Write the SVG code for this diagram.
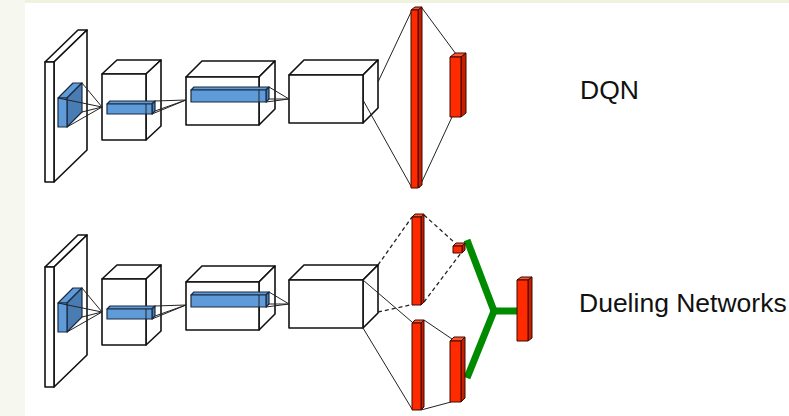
<svg xmlns="http://www.w3.org/2000/svg" width="789" height="416" viewBox="0 0 789 416">
<defs>
<style>
.bg-side{fill:#f6f7ef}
.bg-top{fill:#eef2de}
.w{fill:#fff;stroke:#111;stroke-width:1.6;stroke-linejoin:round}
.bf{fill:#5e9bd8;stroke:#1a2a40;stroke-width:1.2;stroke-linejoin:round}
.bs{fill:#4a7cb4;stroke:#1a2a40;stroke-width:1.2;stroke-linejoin:round}
.rf{fill:#ff2a00;stroke:#3a0a00;stroke-width:1;stroke-linejoin:round}
.rs{fill:#c81e00;stroke:#3a0a00;stroke-width:1;stroke-linejoin:round}
.rt{fill:#ff5535;stroke:#3a0a00;stroke-width:1;stroke-linejoin:round}
.ln{stroke:#222;stroke-width:1;fill:none}
.dl{stroke:#222;stroke-width:1.3;fill:none;stroke-dasharray:4,3}
.g{stroke:#008a00;fill:none;stroke-linecap:butt;stroke-linejoin:miter}
.t{font-family:"Liberation Sans",Arial,sans-serif;font-size:26.5px;fill:#111}
</style>
</defs>
<rect x="0" y="0" width="789" height="416" fill="#fff"/>
<rect class="bg-side" x="0" y="0" width="25" height="416"/>
<rect class="bg-top" x="25" y="0" width="764" height="3"/>

<!-- ===== Top row (DQN) ===== -->
<g id="dqn-input">
  <polygon class="w" points="45,62 78,30 87,30 54,62"/>
  <polygon class="w" points="54,62 87,30 87,150 54,182"/>
  <rect class="w" x="45" y="62" width="9" height="120"/>
  <polygon class="bf" points="58,98 73,83 82,83 67,98"/>
  <polygon class="bs" points="67,98 82,83 82,112 67,127"/>
  <rect class="bf" x="58" y="98" width="9" height="29"/>
</g>
<g id="dqn-conv1">
  <polygon class="w" points="102,74 117,60 161,60 146,74"/>
  <polygon class="w" points="146,74 161,60 161,126 146,140"/>
  <rect class="w" x="102" y="74" width="44" height="66"/>
  <polygon class="bf" points="107,104 110,101 155,101 152,104"/>
  <polygon class="bs" points="152,104 155,101 155,111 152,114"/>
  <rect class="bf" x="107" y="104" width="45" height="10"/>
  <line class="ln" x1="146" y1="104" x2="146" y2="114"/>
</g>
<g id="dqn-conv2">
  <polygon class="w" points="186,77 202,61 275,61 259,77"/>
  <polygon class="w" points="259,77 275,61 275,109 259,125"/>
  <rect class="w" x="186" y="77" width="73" height="48"/>
  <polygon class="bf" points="191,90 194,87 269,87 266,90"/>
  <polygon class="bs" points="266,90 269,87 269,99 266,102"/>
  <rect class="bf" x="191" y="90" width="75" height="12"/>
  <line class="ln" x1="259" y1="90" x2="259" y2="102"/>
</g>
<g id="dqn-conv3">
  <polygon class="w" points="289,75 304,60 378,60 363,75"/>
  <polygon class="w" points="363,75 378,60 378,108 363,123"/>
  <rect class="w" x="289" y="75" width="74" height="48"/>
</g>

<!-- ===== Bottom row (Dueling) ===== -->
<g id="duel-input" transform="translate(0,205)">
  <polygon class="w" points="45,62 78,30 87,30 54,62"/>
  <polygon class="w" points="54,62 87,30 87,150 54,182"/>
  <rect class="w" x="45" y="62" width="9" height="120"/>
  <polygon class="bf" points="58,98 73,83 82,83 67,98"/>
  <polygon class="bs" points="67,98 82,83 82,112 67,127"/>
  <rect class="bf" x="58" y="98" width="9" height="29"/>
</g>
<g id="duel-conv1" transform="translate(0,205)">
  <polygon class="w" points="102,74 117,60 161,60 146,74"/>
  <polygon class="w" points="146,74 161,60 161,126 146,140"/>
  <rect class="w" x="102" y="74" width="44" height="66"/>
  <polygon class="bf" points="107,104 110,101 155,101 152,104"/>
  <polygon class="bs" points="152,104 155,101 155,111 152,114"/>
  <rect class="bf" x="107" y="104" width="45" height="10"/>
  <line class="ln" x1="146" y1="104" x2="146" y2="114"/>
</g>
<g id="duel-conv2" transform="translate(0,205)">
  <polygon class="w" points="186,77 202,61 275,61 259,77"/>
  <polygon class="w" points="259,77 275,61 275,109 259,125"/>
  <rect class="w" x="186" y="77" width="73" height="48"/>
  <polygon class="bf" points="191,90 194,87 269,87 266,90"/>
  <polygon class="bs" points="266,90 269,87 269,99 266,102"/>
  <rect class="bf" x="191" y="90" width="75" height="12"/>
  <line class="ln" x1="259" y1="90" x2="259" y2="102"/>
</g>
<g id="duel-conv3" transform="translate(0,205)">
  <polygon class="w" points="289,75 304,60 378,60 363,75"/>
  <polygon class="w" points="363,75 378,60 378,108 363,123"/>
  <rect class="w" x="289" y="75" width="74" height="48"/>
</g>

<!-- ===== Connectors ===== -->
<g id="connectors">
  <g id="conn-top">
    <line class="ln" x1="58" y1="98" x2="102" y2="107"/>
    <line class="ln" x1="82" y1="83" x2="102" y2="107"/>
    <line class="ln" x1="82" y1="112" x2="102" y2="107"/>
    <line class="ln" x1="67" y1="127" x2="102" y2="107"/>
    <line class="ln" x1="155" y1="101" x2="186" y2="100"/>
    <line class="ln" x1="155" y1="111" x2="186" y2="100"/>
    <line class="ln" x1="152" y1="114" x2="186" y2="100"/>
    <line class="ln" x1="269" y1="87" x2="289" y2="99"/>
    <line class="ln" x1="269" y1="99" x2="289" y2="99"/>
    <line class="ln" x1="266" y1="102" x2="289" y2="99"/>
    <line class="ln" x1="378" y1="82" x2="412" y2="10"/>
    <line class="ln" x1="363" y1="100" x2="412" y2="188"/>
    <line class="ln" x1="422" y1="8" x2="456" y2="54"/>
    <line class="ln" x1="419" y1="188" x2="452" y2="117"/>
  </g>
  <g id="conn-bottom">
    <g transform="translate(0,205)">
      <line class="ln" x1="58" y1="98" x2="102" y2="107"/>
      <line class="ln" x1="82" y1="83" x2="102" y2="107"/>
      <line class="ln" x1="82" y1="112" x2="102" y2="107"/>
      <line class="ln" x1="67" y1="127" x2="102" y2="107"/>
      <line class="ln" x1="155" y1="101" x2="186" y2="100"/>
      <line class="ln" x1="155" y1="111" x2="186" y2="100"/>
      <line class="ln" x1="152" y1="114" x2="186" y2="100"/>
      <line class="ln" x1="269" y1="87" x2="289" y2="99"/>
      <line class="ln" x1="269" y1="99" x2="289" y2="99"/>
      <line class="ln" x1="266" y1="102" x2="289" y2="99"/>
    </g>
    <line class="dl" x1="378" y1="265" x2="412" y2="217"/>
    <line class="dl" x1="378" y1="312" x2="424" y2="302"/>
    <line class="ln" x1="363" y1="280" x2="412" y2="322"/>
    <line class="ln" x1="363" y1="328" x2="412" y2="409"/>
    <line class="dl" x1="424" y1="215" x2="455" y2="243"/>
    <line class="dl" x1="424" y1="302" x2="464" y2="249"/>
    <line class="ln" x1="424" y1="320" x2="452" y2="339"/>
    <line class="ln" x1="421" y1="410" x2="451" y2="402"/>
  </g>
  <g id="aggregator">
    <line class="g" x1="467" y1="240" x2="494" y2="311" stroke-width="7"/>
    <line class="g" x1="494" y1="311" x2="467" y2="378" stroke-width="7"/>
    <line class="g" x1="491" y1="311" x2="517" y2="311" stroke-width="7"/>
  </g>
</g>

<!-- ===== Red FC layers ===== -->
<g id="dqn-fc1">
  <polygon class="rt" points="411,10 415,7 422,7 418,10"/>
  <polygon class="rs" points="418,10 422,7 422,185 418,188"/>
  <rect class="rf" x="411" y="10" width="7" height="178"/>
</g>
<g id="dqn-out">
  <polygon class="rt" points="450,57 455,53 466,53 461,57"/>
  <polygon class="rs" points="461,57 466,53 466,113 461,117"/>
  <rect class="rf" x="450" y="57" width="11" height="60"/>
</g>
<g id="value-fc">
  <polygon class="rt" points="412,217 415,214 424,214 421,217"/>
  <polygon class="rs" points="421,217 424,214 424,302 421,305"/>
  <rect class="rf" x="412" y="217" width="9" height="88"/>
</g>
<g id="value-out">
  <polygon class="rt" points="453,246 456,243 465,243 462,246"/>
  <polygon class="rs" points="462,246 465,243 465,250 462,253"/>
  <rect class="rf" x="453" y="246" width="9" height="7"/>
</g>
<g id="adv-fc">
  <polygon class="rt" points="412,323 415,320 424,320 421,323"/>
  <polygon class="rs" points="421,323 424,320 424,407 421,410"/>
  <rect class="rf" x="412" y="323" width="9" height="87"/>
</g>
<g id="adv-out">
  <polygon class="rt" points="450,341 454,337 465,337 461,341"/>
  <polygon class="rs" points="461,341 465,337 465,398 461,402"/>
  <rect class="rf" x="450" y="341" width="11" height="61"/>
</g>
<g id="q-out">
  <polygon class="rt" points="517,280 521,277 532,277 528,280"/>
  <polygon class="rs" points="528,280 532,277 532,338 528,341"/>
  <rect class="rf" x="517" y="280" width="11" height="61"/>
</g>

<g id="labels">
  <text class="t" x="580" y="99">DQN</text>
  <text class="t" x="579" y="312">Dueling Networks</text>
</g>
</svg>
